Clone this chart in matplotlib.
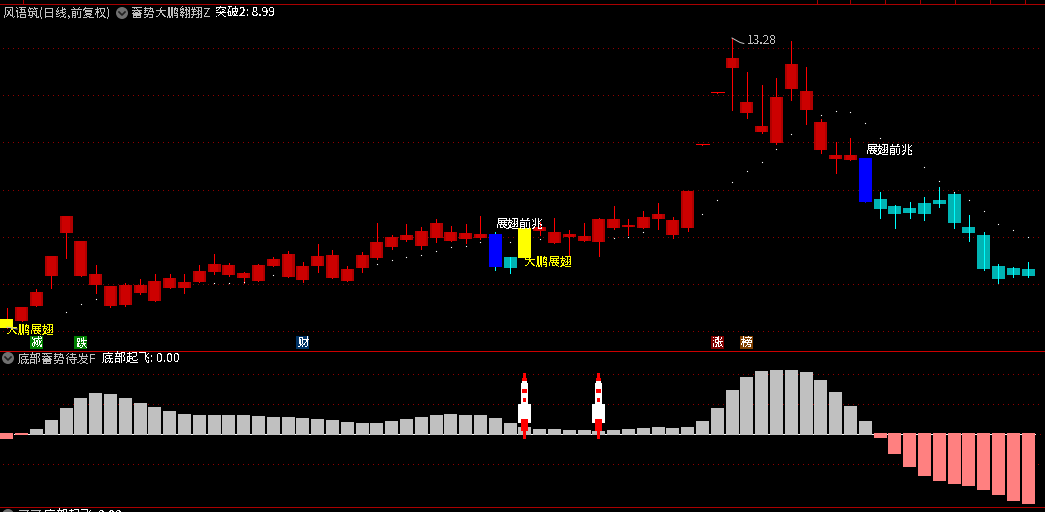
import matplotlib
matplotlib.use("Agg")
import matplotlib.pyplot as plt
from matplotlib.patches import Circle

plt.rcParams["font.family"] = ["Noto Sans CJK SC", "DejaVu Sans"]
plt.rcParams["text.antialiased"] = False

opens = [7.48, 7.62, 7.92, 8.52, 9.38, 8.52, 8.34, 7.92, 7.94, 8.18,
         8.02, 8.28, 8.28, 8.40, 8.60, 8.54, 8.48, 8.42, 8.72, 8.50,
         8.44, 8.72, 8.48, 8.42, 8.68, 8.88, 9.10, 9.24, 9.12, 9.28,
         9.22, 9.26, 9.28, 9.36, 8.90, 8.88, 9.42, 9.18, 9.30, 9.22,
         9.20, 9.48, 9.50, 9.48, 9.66, 9.34, 9.48, 11.14, 12.18, 12.68,
         11.78, 11.40, 11.18, 12.26, 11.84, 11.04, 10.86, 10.84, 10.88, 10.06,
         9.92, 9.88, 9.98, 10.04, 10.16, 9.50, 9.34, 8.72, 8.68, 8.66]
closes = [7.66, 7.90, 8.20, 8.92, 9.72, 9.22, 8.56, 8.32, 8.34, 8.34,
          8.42, 8.48, 8.40, 8.62, 8.76, 8.74, 8.58, 8.74, 8.86, 8.96,
          8.72, 8.92, 8.94, 8.66, 8.94, 9.20, 9.30, 9.34, 9.42, 9.58,
          9.40, 9.38, 9.36, 8.70, 8.68, 9.48, 9.50, 9.40, 9.36, 9.32,
          9.66, 9.66, 9.54, 9.70, 9.76, 9.64, 10.22, 11.16, 12.20, 12.88,
          12.00, 11.52, 12.10, 12.76, 12.22, 11.60, 10.94, 10.94, 10.00, 9.86,
          9.76, 9.78, 9.76, 9.96, 9.58, 9.38, 8.66, 8.46, 8.54, 8.52]
highs = [7.88, 7.90, 8.26, 8.92, 9.72, 9.22, 8.74, 8.32, 8.38, 8.46,
         8.56, 8.56, 8.56, 8.74, 8.96, 8.78, 8.60, 8.76, 8.90, 9.02,
         8.80, 9.16, 9.04, 8.72, 9.00, 9.58, 9.34, 9.56, 9.50, 9.66,
         9.52, 9.56, 9.72, 9.40, 8.90, 9.48, 9.60, 9.68, 9.44, 9.58,
         9.68, 9.92, 9.66, 9.82, 9.98, 9.70, 10.22, 11.16, 12.20, 13.28,
         12.60, 12.34, 12.48, 13.22, 12.70, 11.66, 11.20, 11.28, 10.88, 10.20,
         9.94, 10.00, 10.10, 10.30, 10.18, 9.74, 9.40, 8.76, 8.70, 8.80]
lows = [7.48, 7.62, 7.92, 8.28, 8.88, 8.52, 8.18, 7.90, 7.92, 8.16,
        8.02, 8.28, 8.18, 8.40, 8.56, 8.52, 8.38, 8.42, 8.72, 8.50,
        8.40, 8.60, 8.48, 8.42, 8.60, 8.86, 9.06, 9.22, 9.06, 9.20,
        9.22, 9.18, 9.26, 8.64, 8.58, 8.88, 9.34, 9.18, 8.92, 9.22,
        8.92, 9.46, 9.34, 9.48, 9.46, 9.28, 9.42, 11.14, 12.18, 11.84,
        11.68, 11.38, 11.16, 12.04, 11.56, 10.98, 10.58, 10.84, 10.00, 9.68,
        9.48, 9.68, 9.64, 9.90, 9.48, 9.22, 8.64, 8.38, 8.50, 8.50]

blue_days = [33, 58]
yellow_days = [0, 35]

dot_days = [4, 5, 6, 14, 15, 16, 18, 25, 26, 27, 28, 29, 30, 31, 32, 34, 36, 41, 42, 43,
            47, 48, 49, 50, 51, 52, 53, 55, 56, 57, 58, 59, 62, 63, 64, 65, 66, 67, 68, 69]
dot_values = [7.80, 7.96, 8.06, 8.38, 8.38, 8.40, 8.54, 8.76, 8.84, 8.90,
              8.94, 9.02, 9.10, 9.12, 9.20, 9.20, 9.26, 9.28, 9.30, 9.40,
              9.76, 10.04, 10.40, 10.62, 10.80, 11.06, 11.36, 11.74, 11.82, 11.80,
              11.58, 11.28, 10.70, 10.42, 10.20, 10.04, 9.82, 9.56, 9.44, 9.30]

osc_values = [-5, -1, 5, 14, 26, 36, 41, 40, 36, 31,
              27, 23, 20, 19, 19, 19, 19, 18, 17, 17,
              16, 15, 14, 12, 11, 11, 13, 15, 17, 19,
              20, 19, 19, 16, 11, 7, 5, 5, 4, 4,
              3, 4, 5, 6, 7, 6, 7, 13, 26, 44,
              57, 63, 64, 64, 62, 54, 42, 28, 13, -4,
              -20, -33, -42, -47, -50, -52, -56, -61, -67, -70]

price_grid = [13.08, 12.14, 11.20, 10.24, 9.30, 8.36, 7.42]
osc_grid = [60, 30, -30]

signal_days = [33, 58]
signal_prices = [9.56, 11.04]
signal_text = "展翅前兆"
wing_days = [35, 0]
wing_prices = [8.80, 7.44]
wing_text = "大鹏展翅"

badge_days = [2, 5, 20, 48, 50]
badge_text = ["减", "跌", "财", "涨", "榜"]
badge_colors = ["#008000", "#008000", "#003366", "#800000", "#804000"]

rocket_days = [35, 40]
# width, top, bottom in px around the bar centre / zero line
rocket_parts = [(13, 30, 11), (7, 51, 30), (5, 53, 51),
                (3, 61, 56), (5, 56, 53),
                (5, 45, 41), (3, 36, 32),
                (7, 15, 3), (3, 3, -5)]
rocket_colors = ["white", "white", "white",
                 "#FF0000", "#FF0000",
                 "#FF0000", "#FF0000",
                 "#FF0000", "#FF0000"]

top_ticks = [23, 816.7, 850.3, 885.3, 920.3, 955.3, 990.3, 1025.3]

W, H = 1045, 512
PX = 0.72
PANEL_Y = 351
XLIM = (-6.8 / 14.8, (W - 6.8) / 14.8)
BAR = 13 / 14.8

fig = plt.figure(figsize=(W / 100, H / 100), dpi=100, facecolor="black")
ax = fig.add_axes([0, (H - PANEL_Y) / H, 1, PANEL_Y / H], facecolor="black")
ax2 = fig.add_axes([0, 0, 1, (H - PANEL_Y) / H], facecolor="black")
ov = fig.add_axes([0, 0, 1, 1], facecolor="none", zorder=5)
ov.set_xlim(0, W)
ov.set_ylim(H, 0)
ov.axis("off")

ax.set_xlim(*XLIM)
ax.set_ylim(7.02, 14.04)
ax.axis("off")
ax2.set_xlim(*XLIM)
ax2.set_ylim(-78, 83)
ax2.axis("off")

dotted = (0, (1, 5))
ax.hlines(price_grid, -0.25, 70, colors="#900000", linewidth=PX, linestyles=dotted,
          zorder=1, antialiased=False)
ax2.hlines(osc_grid, -0.25, 70, colors="#900000", linewidth=PX, linestyles=dotted,
           zorder=1, antialiased=False)

# candles
for i in range(len(opens)):
    o, c = opens[i], closes[i]
    up = c >= o
    if i in blue_days:
        body = "#0000FF"
    elif i in yellow_days:
        body = "#FFFF00"
    elif up:
        body = "#CC0000"
    else:
        body = "#00B4B4"
    wick = "#FF0000" if up else "#00FFFF"
    if i == 35 or i == 58:
        wick = body
    ax.vlines(i, lows[i], highs[i], colors=wick, linewidth=PX,
              zorder=4 if body == "#00B4B4" else 2, antialiased=False)
    if abs(c - o) <= 0.02:
        ax.hlines(c, i - BAR / 2, i + BAR / 2, colors="#FF0000", linewidth=PX,
                  zorder=3, antialiased=False)
        continue
    ax.bar(i, abs(c - o), bottom=min(o, c), width=BAR, color=body, linewidth=0, zorder=3)
    if body == "#CC0000":
        ax.bar(i - BAR / 2 + 0.07, abs(c - o), bottom=min(o, c), width=0.14,
               color="#B00000", linewidth=0, zorder=3)
        ax.bar(i + BAR / 2 - 0.07, abs(c - o), bottom=min(o, c), width=0.14,
               color="#B00000", linewidth=0, zorder=3)

ax.plot(dot_days, dot_values, ls="none", marker="s", ms=0.8, mew=0, color="white", zorder=5)

# labels on the chart
for d, p in zip(signal_days, signal_prices):
    ax.text(d, p, signal_text, color="white", fontsize=8.64, va="center", ha="left", zorder=6)
for d, p in zip(wing_days, wing_prices):
    ax.text(d, p, wing_text, color="#FFFF00", fontsize=8.64, va="center", ha="left", zorder=6)

for d, t, col in zip(badge_days, badge_text, badge_colors):
    ax.bar(d, 0.26, bottom=7.06, width=BAR, color=col, linewidth=0, zorder=3)
    ax.text(d, 7.19, t, color="white", fontsize=8.2, va="center", ha="center", zorder=6)

# high / low flags
peak = highs.index(max(highs))
ax.plot([peak, peak + 0.3, peak + 0.55, peak + 0.8], [13.28, 13.23, 13.19, 13.17],
        color="#C0C0C0", linewidth=PX, zorder=6)
ax.text(peak + 1.0, 13.24, "13.28", color="#C0C0C0", fontsize=8.64, va="center", ha="left", zorder=6)
ax.plot([0, 0.7], [7.50, 7.46], color="#C0C0C0", linewidth=PX, zorder=6)

# lower panel: the white zero line only shows in the gaps between bars
colors = ["#C0C0C0" if v >= 0 else "#FF8080" for v in osc_values]
bases = [-0.8 if v >= 0 else 0.8 for v in osc_values]
heights = [v - b for v, b in zip(osc_values, bases)]
ax2.hlines(0, 0.5, 69.5, colors="white", linewidth=PX, zorder=2, antialiased=False)
ax2.hlines(0, 69.5, 70.2, colors="#900000", linewidth=PX, linestyles=dotted, zorder=1,
           antialiased=False)
ax2.bar(range(len(osc_values)), heights, bottom=bases, width=BAR, color=colors,
        linewidth=0, zorder=3)

for d in rocket_days:
    for (w, top, bottom), col in zip(rocket_parts, rocket_colors):
        ax2.bar(d, top - bottom, bottom=bottom, width=w / 14.8, color=col, linewidth=0, zorder=4)

# frame lines and ticks
ov.hlines(3.5, 0, W, colors="#AA0000", linewidth=PX, antialiased=False)
ov.hlines(350.5, 0, W, colors="#CC0000", linewidth=PX, antialiased=False)
ov.hlines(506.5, 0, W, colors="#AA0000", linewidth=PX, antialiased=False)
ov.vlines(top_ticks, 0, 3.5, colors="#AA0000", linewidth=PX, antialiased=False)


def draw_icon(x, y):
    ov.add_patch(Circle((x, y), 6, color="#707070", linewidth=0))
    ov.plot([x - 3, x, x + 3], [y - 1, y + 2, y - 1], color="#202020", linewidth=1.2)


draw_icon(122, 13)
draw_icon(8, 358)
draw_icon(8, 515)

GRAY = "#C0C0C0"
ov.text(3, 13, "风语筑(日线,前复权)", color=GRAY, fontsize=8.64, va="center")
ov.text(131, 13, "蓄势大鹏翱翔Z", color=GRAY, fontsize=8.64, va="center")
ov.text(215, 13, "突破2: 8.99", color="white", fontsize=8.64, va="center")
ov.text(18, 359, "底部蓄势待发F", color=GRAY, fontsize=8.64, va="center")
ov.text(102, 359, "底部起飞: 0.00", color="white", fontsize=8.64, va="center")
ov.text(18, 516, "可可", color=GRAY, fontsize=8.64, va="center")
ov.text(44, 516, "底部起飞: 0.00", color="white", fontsize=8.64, va="center")

fig.savefig("out.png", dpi=100, facecolor="black")
plt.close(fig)
